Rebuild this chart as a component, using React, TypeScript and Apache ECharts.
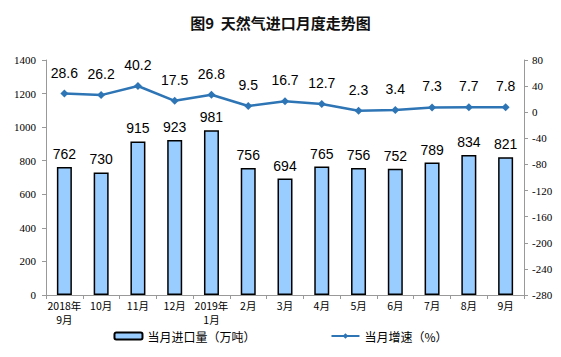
import React, { useEffect, useRef } from "react";
import * as echarts from "echarts";

const categories = ["2018年\n9月", "10月", "11月", "12月", "2019年\n1月", "2月", "3月", "4月", "5月", "6月", "7月", "8月", "9月"];
const importVolume = [762, 730, 915, 923, 981, 756, 694, 765, 756, 752, 789, 834, 821];
const growthRate = [28.6, 26.2, 40.2, 17.5, 26.8, 9.5, 16.7, 12.7, 2.3, 3.4, 7.3, 7.7, 7.8];

export default function App() {
  const ref = useRef<HTMLDivElement>(null);
  useEffect(() => {
    if (!ref.current) return;
    const chart = echarts.init(ref.current, undefined, { renderer: "svg" });
    const axisLabelFont = { fontFamily: "Liberation Serif, serif", fontSize: 11, color: "#000" };
    chart.setOption({
      animation: false,
      backgroundColor: "#fff",
      title: {
        text: "图9  天然气进口月度走势图",
        left: "center",
        top: 10,
        textStyle: { fontSize: 15, fontWeight: "bold", color: "#111", fontFamily: "Noto Sans CJK SC" },
      },
      grid: { left: 46, right: 37, top: 60, bottom: 62 },
      legend: {
        bottom: 10,
        left: "center",
        itemGap: 75,
        itemWidth: 28,
        itemHeight: 7,
        textStyle: { fontSize: 12, color: "#000", fontFamily: "Noto Sans CJK SC" },
        data: [
          { name: "当月进口量（万吨）" },
          { name: "当月增速（%）" },
        ],
      },
      xAxis: {
        type: "category",
        data: categories,
        axisLine: { lineStyle: { color: "#999" } },
        axisTick: { show: true, alignWithLabel: false, length: 4, lineStyle: { color: "#999" } },
        axisLabel: { fontFamily: "Noto Sans CJK SC", fontSize: 10.5, color: "#000", interval: 0, margin: 3, lineHeight: 14 },
      },
      yAxis: [
        {
          type: "value",
          min: 0,
          max: 1400,
          interval: 200,
          axisLine: { show: true, lineStyle: { color: "#999" } },
          axisTick: { show: true, length: 4, lineStyle: { color: "#999" } },
          splitLine: { show: false },
          axisLabel: { ...axisLabelFont, margin: 10, formatter: (v: number) => String(v) },
        },
        {
          type: "value",
          min: -280,
          max: 80,
          interval: 40,
          position: "right",
          axisLine: { show: true, lineStyle: { color: "#999" } },
          axisTick: { show: true, length: 4, lineStyle: { color: "#999" } },
          splitLine: { show: false },
          axisLabel: { ...axisLabelFont, margin: 8, formatter: (v: number) => String(v) },
        },
      ],
      series: [
        {
          name: "当月进口量（万吨）",
          type: "bar",
          data: importVolume,
          barWidth: 15,
          itemStyle: { color: "#99CCFF", borderColor: "#000", borderWidth: 1.5 },
          label: {
            show: true,
            position: "top",
            distance: 6,
            fontSize: 14,
            color: "#000",
            fontFamily: "Liberation Sans, Arial, sans-serif",
          },
        },
        {
          name: "当月增速（%）",
          type: "line",
          yAxisIndex: 1,
          data: growthRate,
          symbol: "diamond",
          symbolSize: 8,
          lineStyle: { color: "#2E75B6", width: 2.5 },
          itemStyle: { color: "#2E75B6" },
          label: {
            show: true,
            position: "top",
            distance: 10,
            fontSize: 14,
            color: "#000",
            fontFamily: "Liberation Sans, Arial, sans-serif",
          },
        },
      ],
    });
    return () => chart.dispose();
  }, []);
  return <div ref={ref} style={{ width: 561, height: 357, position: "absolute", left: 0, top: 0 }} />;
}
